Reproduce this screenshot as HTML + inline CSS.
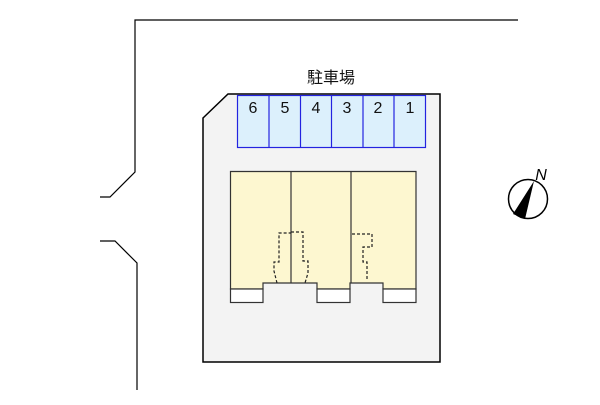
<!DOCTYPE html>
<html><head><meta charset="utf-8"><style>body{margin:0;background:#fff}</style></head><body>
<svg width="600" height="400" viewBox="0 0 600 400" xmlns="http://www.w3.org/2000/svg" font-family="Liberation Sans, Noto Sans CJK JP, sans-serif">
<polyline points="518,20 135,20 135,172 110,197 100,197" fill="none" stroke="#000" stroke-width="1.2"/>
<polyline points="100,241 115,241 137,263 137,390" fill="none" stroke="#000" stroke-width="1.2"/>
<polygon points="203,118 228,94 440,94 440,362 203,362" fill="#f3f3f3" stroke="#000" stroke-width="1.5"/>
<text x="331" y="83" font-size="16" text-anchor="middle" fill="#111">駐車場</text>
<rect x="237.5" y="95.5" width="188" height="52" fill="#dcf0fc" stroke="#2323e0" stroke-width="1.2"/>
<g stroke="#2323e0" stroke-width="1.2">
<line x1="269" y1="96" x2="269" y2="147"/><line x1="300.5" y1="96" x2="300.5" y2="147"/><line x1="331.5" y1="96" x2="331.5" y2="147"/><line x1="363" y1="96" x2="363" y2="147"/><line x1="394" y1="96" x2="394" y2="147"/></g>
<g font-size="16" text-anchor="middle" fill="#111">
<text x="253" y="113">6</text><text x="285" y="113">5</text><text x="316" y="113">4</text><text x="347" y="113">3</text><text x="378" y="113">2</text><text x="410" y="113">1</text></g>
<polygon points="230.5,171.5 416,171.5 416,289 383,289 383,283 350,283 350,289 317,289 317,283 263,283 263,289 230.5,289" fill="#fdf7d0" stroke="#333" stroke-width="1.2"/>
<line x1="291" y1="172" x2="291" y2="283" stroke="#333" stroke-width="1.2"/>
<line x1="351" y1="172" x2="351" y2="283" stroke="#333" stroke-width="1.2"/>
<g fill="#fff" stroke="#333" stroke-width="1.2">
<rect x="230.5" y="289" width="32.5" height="13.5"/><rect x="317" y="289" width="33" height="13.5"/><rect x="383" y="289" width="33" height="13.5"/></g>
<g fill="none" stroke="#222" stroke-width="1.2" stroke-dasharray="3,2">
<polyline points="277,283 274,271 274,262 279,262 279,233 291,233"/>
<polyline points="291,232 303,232 303,261 308,261 308,273 305,283"/>
<polyline points="352,234 372,234 372,247 363,247 363,262 367,262 367,281"/></g>
<circle cx="528" cy="199" r="19.5" fill="#fff" stroke="#000" stroke-width="1.5"/>
<polygon points="534,181 513,214 525,219" fill="#000"/>
<text x="541" y="180" font-size="16" font-style="italic" text-anchor="middle" fill="#000">N</text>
</svg>
</body></html>
